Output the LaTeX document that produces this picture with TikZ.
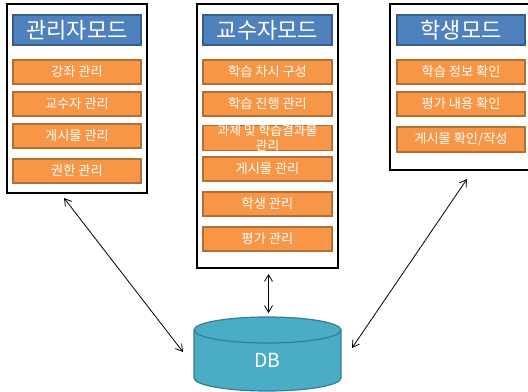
\documentclass[tikz,border=0pt]{standalone}
\usepackage{fontspec}
\setmainfont{Noto Sans CJK KR}
\usetikzlibrary{arrows.meta}
\begin{document}
\begin{tikzpicture}[x=0.75pt,y=-0.75pt,
  panel/.style={draw=black,line width=1.2pt,fill=white,inner sep=0pt},
  title/.style={draw={rgb,255:red,56;green,93;blue,138},fill={rgb,255:red,79;green,129;blue,189},
    line width=0.9pt,text=white,minimum height=22.5pt,inner sep=0pt,
    font=\fontsize{16.5}{17}\selectfont},
  item/.style={draw={rgb,255:red,182;green,109;blue,49},fill={rgb,255:red,247;green,150;blue,70},
    line width=0.9pt,text=white,minimum height=18pt,inner sep=0pt,
    font=\fontsize{9.9}{10}\selectfont},
  link/.style={line width=0.6pt,{Straight Barb[length=5pt,width=6pt]}-{Straight Barb[length=5pt,width=6pt]}}
]
\useasboundingbox (0,0) rectangle (528,392);
\clip (0,0) rectangle (528,392);

% administrator panel
\node[panel,minimum width=105pt,minimum height=141.75pt] (adm) at (77,98.5) {};
\node[title,minimum width=96pt] (admT) at (77,30) {관리자모드};
\node[item,minimum width=96pt] (a1) at (77,72) {강좌 관리};
\node[item,minimum width=96pt] (a2) at (77,104) {교수자 관리};
\node[item,minimum width=96pt] (a3) at (77,136) {게시물 관리};
\node[item,minimum width=96pt] (a4) at (77,171) {권한 관리};

% professor panel
\node[panel,minimum width=105.75pt,minimum height=198pt] (prof) at (267.5,136) {};
\node[title,minimum width=96.75pt] (profT) at (267.5,30) {교수자모드};
\node[item,minimum width=96.75pt] (p1) at (267.5,72) {학습 차시 구성};
\node[item,minimum width=96.75pt] (p2) at (267.5,104) {학습 진행 관리};
\node[item,minimum width=96.75pt,minimum height=18.75pt] (p3) at (267.5,138) {};
\node[text=white,inner sep=0pt,align=center,
  font=\fontsize{9.6}{11.2}\selectfont] (p3t) at (p3.center) {과제 및 학습결과물\\관리};
\node[item,minimum width=96.75pt] (p4) at (267.5,169) {게시물 관리};
\node[item,minimum width=96.75pt] (p5) at (267.5,204) {학생 관리};
\node[item,minimum width=96.75pt] (p6) at (267.5,239) {평가 관리};

% student panel (runs past the right edge)
\node[panel,minimum width=108pt,minimum height=124.5pt] (stu) at (462,87) {};
\node[title,minimum width=96pt] (stuT) at (461,30) {학생모드};
\node[item,minimum width=96pt] (s1) at (461,72) {학습 정보 확인};
\node[item,minimum width=96pt] (s2) at (461,104) {평가 내용 확인};
\node[item,minimum width=96pt,minimum height=18.75pt] (s3) at (461,139.5) {게시물 확인/작성};

% database cylinder
\fill[fill={rgb,255:red,75;green,172;blue,198}] (194,330) -- (194,378)
  arc[start angle=180,end angle=0,x radius=73.5,y radius=13] -- (341,330)
  arc[start angle=0,end angle=-180,x radius=73.5,y radius=13];
\draw[draw={rgb,255:red,53;green,125;blue,145},line width=0.9pt] (194,330) -- (194,378)
  arc[start angle=180,end angle=0,x radius=73.5,y radius=13] -- (341,330);
\draw[draw={rgb,255:red,53;green,125;blue,145},fill={rgb,255:red,75;green,172;blue,198},line width=0.9pt]
  (267.5,330) ellipse[x radius=73.5,y radius=13];
\node[text=white,font=\fontsize{14.5}{15}\selectfont,inner sep=0pt,
  minimum width=110pt,minimum height=45pt] (db) at (267.5,360) {DB};

% links between the panels and the database
\coordinate (admEnd) at (64,198);
\coordinate (dbL) at (183,352);
\coordinate (stuEnd) at (467,179);
\coordinate (dbR) at (352,348);
\coordinate (profEnd) at (268.5,274);
\coordinate (dbT) at (268.5,313);
\draw[link] (admEnd) -- (dbL);
\draw[link] (stuEnd) -- (dbR);
\draw[link] (profEnd) -- (dbT);
\end{tikzpicture}
\end{document}
